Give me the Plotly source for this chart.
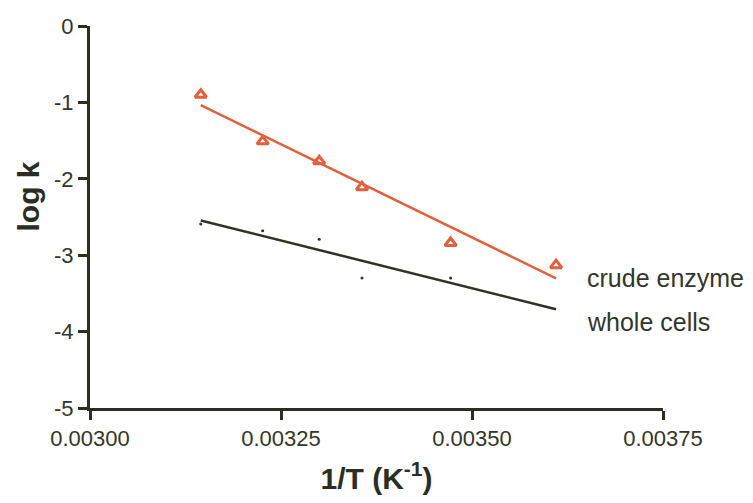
import numpy as np
import plotly.graph_objects as go

# Reciprocal temperature (K^-1) for each assay temperature
inv_T_crude = [0.003145, 0.003226, 0.003300, 0.003356, 0.003472, 0.003610]
logk_crude = [-0.90, -1.51, -1.77, -2.11, -2.84, -3.13]

inv_T_cells = [0.003145, 0.003226, 0.003300, 0.003356, 0.003472]
logk_cells = [-2.59, -2.68, -2.79, -3.30, -3.30]

x_ticks = [0.00300, 0.00325, 0.00350, 0.00375]
x_tick_labels = ["0.00300", "0.00325", "0.00350", "0.00375"]
y_ticks = [0, -1, -2, -3, -4, -5]
y_tick_labels = ["0", "-1", "-2", "-3", "-4", "-5"]

RED = "#e2603c"
DARK = "#2e3322"
AXIS = "#2b2f1e"
TEXT = "#33362a"
FONT = "Liberation Sans, Arial, sans-serif"

# Linear (Arrhenius) fits, drawn across the full temperature range
x_fit = np.array([min(inv_T_crude), max(inv_T_crude)])
fit_crude = np.polyfit(inv_T_crude, logk_crude, 1)
fit_cells = np.polyfit(inv_T_cells, logk_cells, 1)

fig = go.Figure()
fig.add_trace(go.Scatter(
    x=x_fit, y=np.polyval(fit_crude, x_fit), mode="lines",
    line=dict(color=RED, width=2.5), showlegend=False, hoverinfo="skip"))
fig.add_trace(go.Scatter(
    x=x_fit, y=np.polyval(fit_cells, x_fit), mode="lines",
    line=dict(color=DARK, width=2.5), showlegend=False, hoverinfo="skip"))
fig.add_trace(go.Scatter(
    x=inv_T_crude, y=logk_crude, mode="markers", name="crude enzyme",
    marker=dict(symbol="triangle-up-open", size=10, color=RED,
                line=dict(color=RED, width=3)), showlegend=False))
fig.add_trace(go.Scatter(
    x=inv_T_cells, y=logk_cells, mode="markers", name="whole cells",
    marker=dict(symbol="circle", size=3, color=DARK), showlegend=False))

# Series labels beside the line ends
for text, yv in [("crude enzyme", -3.30), ("whole cells", -3.87)]:
    fig.add_annotation(x=0.003648, y=yv, xref="x", yref="y", text=text,
                       showarrow=False, xanchor="left", yanchor="middle",
                       font=dict(family=FONT, size=25, color=TEXT))

# y-axis title, placed left of the tick labels
fig.add_annotation(x=-(90 - 10) / 573, y=(408 - 197) / 382, xref="paper", yref="paper",
                   text="<b>log k</b>", showarrow=False, textangle=-90,
                   xanchor="left", yanchor="middle",
                   font=dict(family=FONT, size=30, color="#2a2d22"))

fig.update_layout(
    width=753, height=503,
    margin=dict(l=90, r=90, t=26, b=95),
    paper_bgcolor="white", plot_bgcolor="white",
    font=dict(family=FONT, color=TEXT),
    xaxis=dict(
        range=[0.003, 0.00375], tickvals=x_ticks, ticktext=x_tick_labels,
        showgrid=False, zeroline=False, showline=True, linecolor=AXIS, linewidth=3,
        ticks="outside", ticklen=9, tickwidth=3, tickcolor=AXIS,
        tickfont=dict(family=FONT, size=22, color=TEXT),
        title=dict(text="<b>1/T (K<sup>-1</sup>)</b>", standoff=18,
                   font=dict(family=FONT, size=30, color="#2a2d22")),
    ),
    yaxis=dict(
        range=[-5, 0], tickvals=y_ticks, ticktext=y_tick_labels,
        showgrid=False, zeroline=False, showline=True, linecolor=AXIS, linewidth=3,
        ticks="outside", ticklen=9, tickwidth=3, tickcolor=AXIS,
        tickfont=dict(family=FONT, size=22, color=TEXT),
    ),
)

fig.write_html("out.html")
